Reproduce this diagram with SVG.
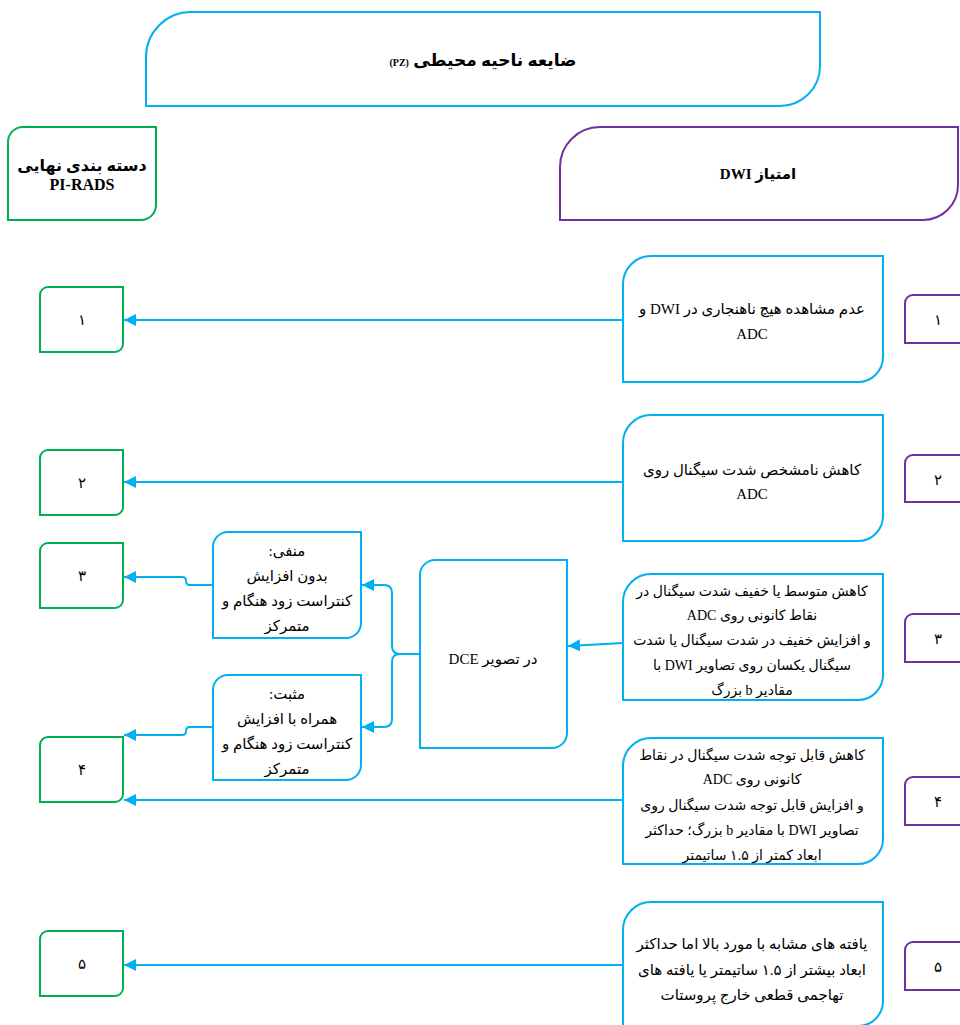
<svg xmlns="http://www.w3.org/2000/svg" width="960" height="1025" viewBox="0 0 960 1025">
<style>
.b{fill:#fff;stroke:#00b0f0;stroke-width:2}
.g{fill:#fff;stroke:#00b050;stroke-width:2}
.p{fill:#fff;stroke:#7030a0;stroke-width:2}
.c{fill:none;stroke:#00b0f0;stroke-width:2}
text{font-family:"Liberation Serif","DejaVu Sans",serif;font-size:15px;fill:#000;text-anchor:middle}
.bd{font-weight:bold}
.sm{font-size:14px}
</style>
<defs>
<marker id="ah" markerUnits="userSpaceOnUse" markerWidth="13" markerHeight="12" refX="12" refY="6" orient="auto">
<path d="M0,0 L12,6 L0,12 z" fill="#00b0f0"/>
</marker>
</defs>
<rect width="960" height="1025" fill="#fff"/>

<g id="header">
<path class="b" d="M146,57 A45,45 0 0 1 191,12 H820 V66 A40,40 0 0 1 780,106 H146 Z"/>
<text x="483" y="66" class="bd" direction="rtl" style="font-size:17px">ضایعه ناحیه محیطی <tspan style="font-size:10px">(PZ)</tspan></text>
</g>

<g id="pirads">
<path class="g" d="M8,142 A15,15 0 0 1 23,127 H156 V205 A15,15 0 0 1 141,220 H8 Z"/>
<text x="82" y="171" class="bd" direction="rtl" style="font-size:16px">دسته بندی نهایی</text>
<text x="82" y="190" class="bd" style="font-size:16px">PI-RADS</text>
</g>

<g id="dwi">
<path class="p" d="M560,167 A40,40 0 0 1 600,127 H958 V185 A35,35 0 0 1 923,220 H560 Z"/>
<text x="758" y="179" class="bd" direction="rtl">امتیاز DWI</text>
</g>

<g id="d1">
<path class="b" d="M623,284 A28,28 0 0 1 651,256 H883 V357 A25,25 0 0 1 858,382 H623 Z"/>
<text x="752" y="314" direction="rtl">عدم مشاهده هیچ ناهنجاری در DWI و</text>
<text x="752" y="339">ADC</text>
</g>
<g id="d2">
<path class="b" d="M623,443 A28,28 0 0 1 651,415 H883 V516 A25,25 0 0 1 858,541 H623 Z"/>
<text x="752" y="475" direction="rtl">کاهش نامشخص شدت سیگنال روی</text>
<text x="752" y="499">ADC</text>
</g>
<g id="d3">
<path class="b" d="M623,602 A28,28 0 0 1 651,574 H883 V675 A25,25 0 0 1 858,700 H623 Z"/>
<text x="752" y="596" class="sm" direction="rtl">کاهش متوسط یا خفیف شدت سیگنال در</text>
<text x="752" y="620" class="sm" direction="rtl">نقاط کانونی روی ADC</text>
<text x="752" y="645" class="sm" direction="rtl">و افزایش خفیف در شدت سیگنال یا شدت</text>
<text x="752" y="670" class="sm" direction="rtl">سیگنال یکسان روی تصاویر DWI با</text>
<text x="752" y="695" class="sm" direction="rtl">مقادیر b بزرگ</text>
</g>
<g id="d4">
<path class="b" d="M623,766 A28,28 0 0 1 651,738 H883 V839 A25,25 0 0 1 858,864 H623 Z"/>
<text x="752" y="760" class="sm" direction="rtl">کاهش قابل توجه شدت سیگنال در نقاط</text>
<text x="752" y="784" class="sm" direction="rtl">کانونی روی ADC</text>
<text x="752" y="810" class="sm" direction="rtl">و افزایش قابل توجه شدت سیگنال روی</text>
<text x="752" y="835" class="sm" direction="rtl">تصاویر DWI با مقادیر b بزرگ؛ حداکثر</text>
<text x="752" y="860" class="sm" direction="rtl">ابعاد کمتر از ۱.۵ ساتیمتر</text>
</g>
<g id="d5">
<path class="b" d="M623,930 A28,28 0 0 1 651,902 H883 V1001 A25,25 0 0 1 858,1026 H623 Z"/>
<text x="752" y="949" direction="rtl">یافته های مشابه با مورد بالا اما حداکثر</text>
<text x="752" y="975" direction="rtl">ابعاد بیشتر از ۱.۵ ساتیمتر یا یافته های</text>
<text x="752" y="1000" direction="rtl">تهاجمی قطعی خارج پروستات</text>
</g>

<g id="s1"><path class="p" d="M905,303 A8,8 0 0 1 913,295 H962 V343 H905 Z"/><text x="938" y="325">۱</text></g>
<g id="s2"><path class="p" d="M905,463 A8,8 0 0 1 913,455 H962 V502 H905 Z"/><text x="938" y="485">۲</text></g>
<g id="s3"><path class="p" d="M905,622 A8,8 0 0 1 913,614 H962 V662 H905 Z"/><text x="938" y="644">۳</text></g>
<g id="s4"><path class="p" d="M905,785 A8,8 0 0 1 913,777 H962 V825 H905 Z"/><text x="938" y="807">۴</text></g>
<g id="s5"><path class="p" d="M905,950 A8,8 0 0 1 913,942 H962 V990 H905 Z"/><text x="938" y="972">۵</text></g>

<g id="r1"><path class="g" d="M40,295 A8,8 0 0 1 48,287 H123 V344 A8,8 0 0 1 115,352 H40 Z"/><text x="82" y="325">۱</text></g>
<g id="r2"><path class="g" d="M40,458 A8,8 0 0 1 48,450 H123 V507 A8,8 0 0 1 115,515 H40 Z"/><text x="82" y="488">۲</text></g>
<g id="r3"><path class="g" d="M40,551 A8,8 0 0 1 48,543 H123 V600 A8,8 0 0 1 115,608 H40 Z"/><text x="82" y="581">۳</text></g>
<g id="r4"><path class="g" d="M40,745 A8,8 0 0 1 48,737 H123 V794 A8,8 0 0 1 115,802 H40 Z"/><text x="82" y="775">۴</text></g>
<g id="r5"><path class="g" d="M40,939 A8,8 0 0 1 48,931 H123 V988 A8,8 0 0 1 115,996 H40 Z"/><text x="82" y="969">۵</text></g>

<g id="dce">
<path class="b" d="M420,575 A15,15 0 0 1 435,560 H567 V733 A15,15 0 0 1 552,748 H420 Z"/>
<text x="493" y="664" direction="rtl">در تصویر DCE</text>
</g>
<g id="neg">
<path class="b" d="M213,547 A15,15 0 0 1 228,532 H361 V623 A15,15 0 0 1 346,638 H213 Z"/>
<text x="287" y="556" direction="rtl">منفی:</text>
<text x="287" y="581" direction="rtl">بدون افزایش</text>
<text x="287" y="606" direction="rtl">کنتراست زود هنگام و</text>
<text x="287" y="631" direction="rtl">متمرکز</text>
</g>
<g id="pos">
<path class="b" d="M213,690 A15,15 0 0 1 228,675 H361 V765 A15,15 0 0 1 346,780 H213 Z"/>
<text x="287" y="699" direction="rtl">مثبت:</text>
<text x="287" y="724" direction="rtl">همراه با افزایش</text>
<text x="287" y="749" direction="rtl">کنتراست زود هنگام و</text>
<text x="287" y="774" direction="rtl">متمرکز</text>
</g>

<g id="connectors">
<path class="c" marker-end="url(#ah)" d="M623,320 H124"/>
<path class="c" marker-end="url(#ah)" d="M623,482 H124"/>
<path class="c" marker-end="url(#ah)" d="M623,643 L568,646"/>
<path class="c" marker-end="url(#ah)" d="M623,800 H124"/>
<path class="c" marker-end="url(#ah)" d="M623,965 H124"/>
<path class="c" marker-end="url(#ah)" d="M420,654 H400 Q392,654 392,646 V593 Q392,585 384,585 H362"/>
<path class="c" marker-end="url(#ah)" d="M420,654 H400 Q392,654 392,662 V719 Q392,727 384,727 H362"/>
<path class="c" marker-end="url(#ah)" d="M213,585 H190 Q186,585 186,581 Q186,577 182,577 H124"/>
<path class="c" marker-end="url(#ah)" d="M213,727 H190 Q186,727 186,731 Q186,735 182,735 H124"/>
</g>
</svg>
